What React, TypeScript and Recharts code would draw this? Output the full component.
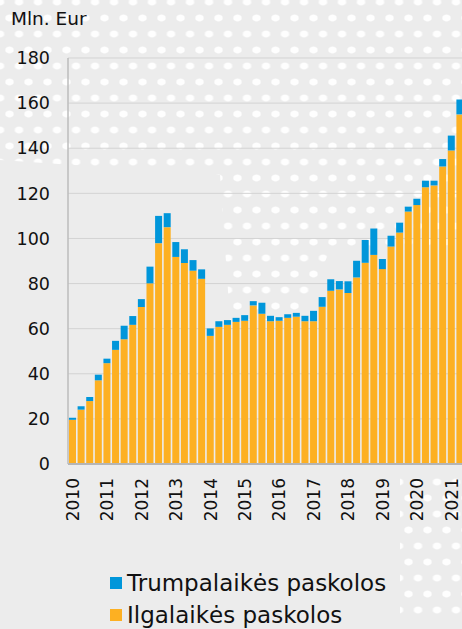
import React from "react";
import { BarChart, Bar, XAxis, YAxis, CartesianGrid } from "recharts";

const years = [2010, 2011, 2012, 2013, 2014, 2015, 2016, 2017, 2018, 2019, 2020, 2021];
const quarterNames = ["I", "II", "III", "IV"];

// Ilgalaikės paskolos (mln. Eur)
const longTerm = [
  19.6, 24.1, 27.9, 37.1, 44.7, 50.6, 55.3, 61.7, 69.6, 80.1, 97.9, 105.0,
  91.8, 89.1, 85.7, 82.1, 56.8, 60.8, 61.7, 63.0, 63.5, 70.3, 66.6, 63.3,
  63.5, 64.8, 65.3, 63.3, 63.3, 69.7, 76.8, 77.4, 75.8, 82.7, 89.2, 92.7,
  86.4, 96.4, 102.6, 111.9, 114.8, 122.7, 123.5, 131.9, 139.0, 155.0,
];

// Trumpalaikės paskolos (mln. Eur)
const shortTerm = [
  0.9, 1.5, 1.8, 2.5, 2.0, 4.0, 6.0, 3.9, 3.5, 7.4, 12.1, 6.2,
  6.6, 6.1, 4.7, 4.2, 3.3, 2.5, 2.1, 1.8, 2.5, 1.9, 4.9, 2.4,
  1.6, 1.6, 1.7, 2.4, 4.6, 4.3, 5.1, 3.7, 5.2, 7.4, 10.1, 11.7,
  4.5, 4.8, 4.4, 2.2, 2.8, 2.9, 2.1, 3.3, 6.6, 6.6,
];

const yTicks = [0, 20, 40, 60, 80, 100, 120, 140, 160, 180];

const series = [
  { key: "short", name: "Trumpalaikės paskolos", color: "#0096DA" },
  { key: "long", name: "Ilgalaikės paskolos", color: "#FDB022" },
];

const quarters = years.flatMap((y) => quarterNames.map((q) => `${y} ${q}`));

const data = longTerm.map((v, i) => ({
  period: quarters[i],
  long: v,
  short: shortTerm[i],
}));

const FONT = "'DejaVu Sans', Verdana, sans-serif";

function YearTick({ x, y, payload }: { x?: number; y?: number; payload?: { value: string } }) {
  if (x == null || y == null || !payload) return null;
  const label = payload.value.split(" ")[0];
  const ty = y + 14;
  const tx = x + 0.5;
  return (
    <text
      x={tx}
      y={ty}
      transform={`rotate(-90 ${tx} ${ty})`}
      textAnchor="end"
      dominantBaseline="central"
      fill="#111"
      fontSize={17}
      fontFamily={FONT}
    >
      {label}
    </text>
  );
}

const dotLayer: React.CSSProperties = {
  position: "absolute",
  inset: 0,
  backgroundImage:
    "radial-gradient(ellipse 5px 4px at center, rgba(255,255,255,0.95) 70%, rgba(255,255,255,0) 100%), radial-gradient(ellipse 5px 4px at center, rgba(255,255,255,0.95) 70%, rgba(255,255,255,0) 100%)",
  backgroundSize: "19px 32px, 19px 32px",
  backgroundPosition: "0px 2px, 9.5px 18px",
};

export default function App() {
  return (
    <div
      style={{
        position: "fixed",
        left: 0,
        top: 0,
        width: 462,
        height: 629,
        overflow: "hidden",
        background: "#ececec",
        fontFamily: FONT,
      }}
    >
      <div
        style={{
          ...dotLayer,
          clipPath:
            "polygon(0 0, 462px 0, 462px 245px, 330px 250px, 300px 320px, 230px 320px, 220px 175px, 0 160px)",
        }}
      />
      <div
        style={{
          ...dotLayer,
          clipPath: "polygon(400px 470px, 462px 470px, 462px 615px, 400px 615px)",
        }}
      />
      <div style={{ position: "absolute", left: 11, top: 8, fontSize: 18.5, color: "#111" }}>
        Mln. Eur
      </div>
      <div style={{ position: "absolute", left: 0, top: 0 }}>
        <BarChart
          width={464}
          height={534}
          data={data}
          margin={{ top: 58, right: 0, bottom: 0, left: 0 }}
          barCategoryGap={1}
        >
          <CartesianGrid vertical={false} stroke="#d3d3d3" strokeWidth={1} />
          <XAxis
            dataKey="period"
            interval={3}
            tickLine={false}
            tickSize={0}
            tickMargin={0}
            height={70}
            axisLine={{ stroke: "#b5b5b5", strokeWidth: 2 }}
            tick={<YearTick />}
          />
          <YAxis
            width={68}
            domain={[0, 180]}
            ticks={yTicks}
            interval={0}
            tickLine={false}
            tickSize={0}
            tickMargin={18}
            axisLine={{ stroke: "#bdbdbd", strokeWidth: 1.5 }}
            tick={{ fill: "#111", fontSize: 17.5, fontFamily: FONT }}
          />
          <Bar dataKey="long" stackId="a" fill={series[1].color} isAnimationActive={false} />
          <Bar dataKey="short" stackId="a" fill={series[0].color} isAnimationActive={false} />
        </BarChart>
      </div>
      {series.map((s, i) => (
        <div
          key={s.key}
          style={{
            position: "absolute",
            left: 110,
            top: 570 + i * 32,
            display: "flex",
            alignItems: "center",
            fontSize: 23,
            color: "#111",
            whiteSpace: "nowrap",
          }}
        >
          <span
            style={{
              display: "inline-block",
              width: 12,
              height: 12,
              background: s.color,
              marginRight: 5,
            }}
          />
          <span>{s.name}</span>
        </div>
      ))}
    </div>
  );
}
